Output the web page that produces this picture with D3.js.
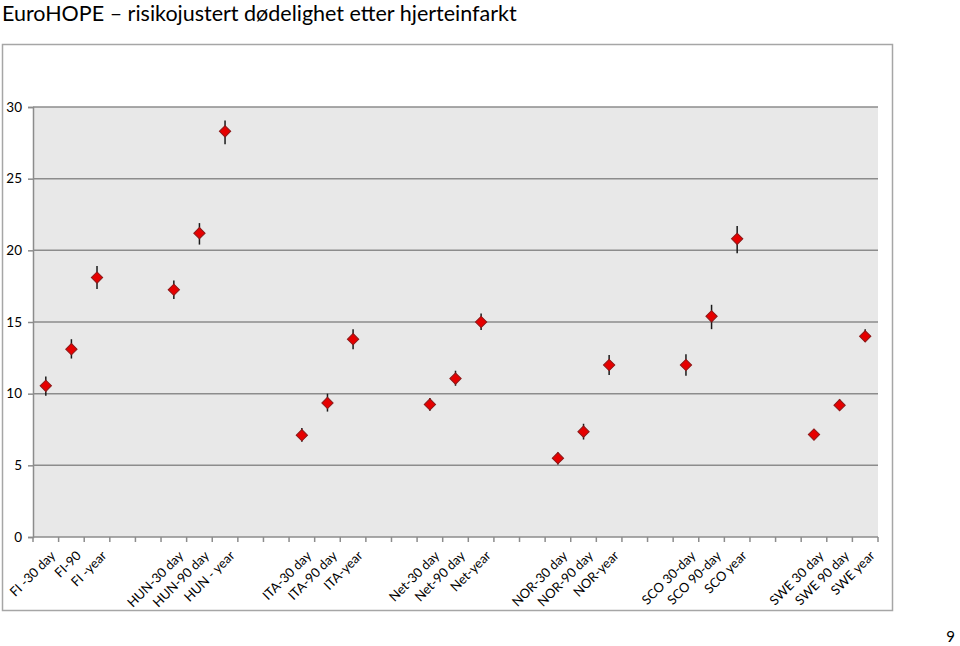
<!DOCTYPE html>
<html><head><meta charset="utf-8">
<script src="https://cdn.jsdelivr.net/npm/d3@7"></script>
<style>body{margin:0;background:#fff;} svg{display:block;}</style>
</head><body>
<script>
const categories = ["FI -30 day","FI-90","FI -year","","","HUN-30 day","HUN-90 day","HUN - year","","","ITA-30 day","ITA-90 day","ITA-year","","","Net-30 day","Net-90 day","Net-year","","","NOR-30 day","NOR-90 day","NOR-year","","","SCO 30-day","SCO 90-day","SCO year","","","SWE 30 day","SWE 90 day","SWE year"];
const values = [10.55,13.1,18.1,null,null,17.25,21.2,28.3,null,null,7.1,9.35,13.8,null,null,9.25,11.05,15.0,null,null,5.5,7.35,12.0,null,null,12.0,15.4,20.8,null,null,7.15,9.2,14.0];
const lower = [9.85,12.45,17.3,null,null,16.6,20.4,27.4,null,null,6.65,8.75,13.1,null,null,8.8,10.55,14.45,null,null,5.05,6.8,11.3,null,null,11.25,14.5,19.8,null,null,6.85,8.9,13.6];
const upper = [11.2,13.8,18.9,null,null,17.9,21.9,29.05,null,null,7.6,10.0,14.5,null,null,9.7,11.6,15.6,null,null,5.9,7.9,12.7,null,null,12.75,16.2,21.7,null,null,7.5,9.6,14.5];
const yTicks = [0,5,10,15,20,25,30];

const W=960,H=646;
const svg=d3.select("body").append("svg").attr("width",W).attr("height",H);
const font="Lato, 'Open Sans', sans-serif";

svg.append("text").attr("x",2).attr("y",21).attr("font-family",font).attr("font-size",21.5).attr("fill","#000")
  .text("EuroHOPE – risikojustert dødelighet etter hjerteinfarkt");
svg.append("text").attr("x",955).attr("y",642).attr("text-anchor","end").attr("font-family",font).attr("font-size",15).text("9");

// chart frame
svg.append("rect").attr("x",2.5).attr("y",44.5).attr("width",890).attr("height",566).attr("fill","#fff").attr("stroke","#a6a6a6").attr("stroke-width",1.5);

const L=33,R=878,T=107,B=537;
const x=d3.scaleBand().domain(d3.range(categories.length)).range([L,R]);
const y=d3.scaleLinear().domain([0,30]).range([B,T]);

svg.append("rect").attr("x",L).attr("y",T).attr("width",R-L).attr("height",B-T).attr("fill","#e8e8e8");

svg.append("g").selectAll("line").data(yTicks.filter(d=>d>0)).join("line")
  .attr("x1",L).attr("x2",R).attr("y1",d=>y(d)).attr("y2",d=>y(d)).attr("stroke","#8c8c8c").attr("stroke-width",1.5);

const yAxis=svg.append("g").attr("transform",`translate(${L},0)`).call(d3.axisLeft(y).tickValues(yTicks).tickSize(5).tickPadding(6));
yAxis.select(".domain").attr("stroke","#8c8c8c").attr("stroke-width",1.5);
yAxis.selectAll(".tick line").attr("stroke","#8c8c8c").attr("stroke-width",1.5);
yAxis.selectAll("text").attr("font-family",font).attr("font-size",13.5).attr("fill","#000");

// x axis
const xb=svg.append("g").attr("transform",`translate(0,${B})`);
xb.append("line").attr("x1",L).attr("x2",R).attr("stroke","#8c8c8c").attr("stroke-width",1.5);
xb.selectAll("line.t").data(d3.range(categories.length+1)).join("line").attr("class","t")
  .attr("x1",d=>L+d*x.step()).attr("x2",d=>L+d*x.step()).attr("y1",0).attr("y2",5).attr("stroke","#8c8c8c").attr("stroke-width",1.5);
xb.selectAll("text").data(categories.map((c,i)=>({c,i})).filter(d=>d.c)).join("text")
  .attr("transform",d=>`translate(${x(d.i)+x.bandwidth()/2+4},${13}) rotate(-45)`)
  .attr("text-anchor","end").attr("dy","0.7em").attr("font-family",font).attr("font-size",13).text(d=>d.c);

const pts=values.map((v,i)=>({v,i,lo:lower[i],hi:upper[i]})).filter(d=>d.v!=null);
const cx=d=>x(d.i)+x.bandwidth()/2;
svg.append("g").selectAll("line").data(pts).join("line")
  .attr("x1",cx).attr("x2",cx).attr("y1",d=>y(d.lo)).attr("y2",d=>y(d.hi)).attr("stroke","#1a1a1a").attr("stroke-width",1.5);
svg.append("g").selectAll("path").data(pts).join("path")
  .attr("d",d3.symbol(d3.symbolSquare,64)).attr("transform",d=>`translate(${cx(d)},${y(d.v)}) rotate(45)`)
  .attr("fill","#e60000").attr("stroke","#8b1a1a").attr("stroke-width",1);
</script>
</body></html>
